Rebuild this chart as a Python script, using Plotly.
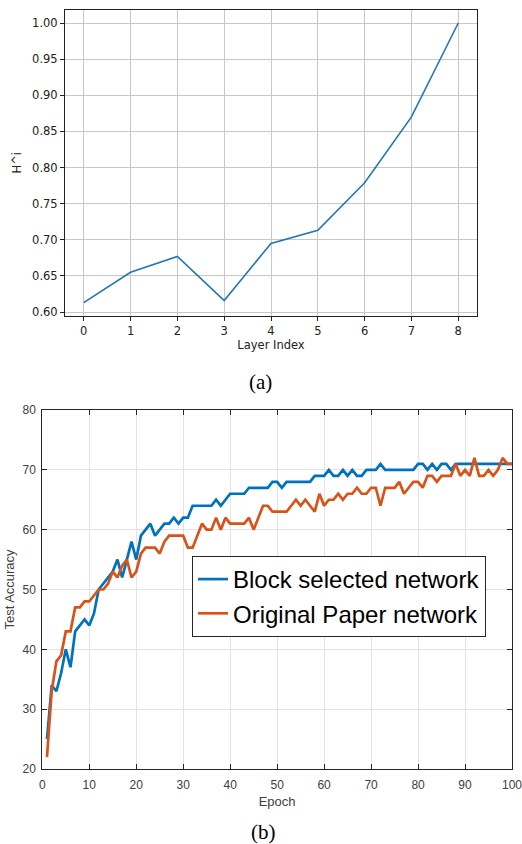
import plotly.graph_objects as go

# ---- Panel (a) data ----
layer_index = [0, 1, 2, 3, 4, 5, 6, 7, 8]
h_values = [0.613, 0.655, 0.677, 0.616, 0.695, 0.713, 0.779, 0.870, 1.000]
a_yticks = [0.60, 0.65, 0.70, 0.75, 0.80, 0.85, 0.90, 0.95, 1.00]

# ---- Panel (b) data ----
epochs = list(range(1, 101))
block_selected = [
    25, 34, 33, 36, 40, 37, 43, 44, 45, 44,
    46, 50, 51, 52, 53, 55, 52, 55, 58, 55,
    59, 60, 61, 59, 60, 61, 61, 62, 61, 62,
    62, 64, 64, 64, 64, 64, 65, 64, 65, 66,
    66, 66, 66, 67, 67, 67, 67, 67, 68, 68,
    67, 68, 68, 68, 68, 68, 68, 69, 69, 69,
    70, 69, 69, 70, 69, 70, 69, 69, 70, 70,
    70, 71, 70, 70, 70, 70, 70, 70, 70, 71,
    71, 70, 71, 70, 71, 71, 70, 71, 71, 71,
    71, 71, 71, 71, 71, 71, 71, 71, 71, 71,
]
original_paper = [
    22, 33, 38, 39, 43, 43, 47, 47, 48, 48,
    49, 50, 50, 51, 53, 52, 54, 55, 52, 53,
    56, 57, 57, 57, 56, 58, 59, 59, 59, 59,
    57, 57, 59, 61, 60, 60, 62, 60, 62, 61,
    61, 61, 61, 62, 60, 62, 64, 64, 63, 63,
    63, 63, 64, 65, 64, 65, 64, 63, 66, 64,
    65, 65, 66, 65, 66, 66, 67, 66, 66, 67,
    67, 64, 67, 67, 67, 68, 66, 67, 68, 68,
    67, 69, 69, 68, 69, 69, 69, 71, 69, 70,
    69, 72, 69, 69, 70, 69, 70, 72, 71, 71,
]
b_xticks = [0, 10, 20, 30, 40, 50, 60, 70, 80, 90, 100]
b_yticks = [20, 30, 40, 50, 60, 70, 80]

W, H = 522, 844
MPL_FONT = "DejaVu Sans"
MATLAB_FONT = "Liberation Sans, Arial, Helvetica"
SERIF = "Liberation Serif, Times New Roman"

fig = go.Figure()

fig.add_trace(go.Scatter(
    x=layer_index, y=h_values, mode="lines",
    line=dict(color="#1f77b4", width=1.6),
    xaxis="x", yaxis="y", showlegend=False,
))

fig.add_trace(go.Scatter(
    x=epochs, y=block_selected, mode="lines", name="Block selected network",
    line=dict(color="#0072BD", width=2.7),
    xaxis="x2", yaxis="y2",
))
fig.add_trace(go.Scatter(
    x=epochs, y=original_paper, mode="lines", name="Original Paper network",
    line=dict(color="#D95319", width=2.7),
    xaxis="x2", yaxis="y2",
))

def px_x(p):
    return p / W

def px_y(p):
    return 1 - p / H

fig.update_layout(
    width=W, height=H,
    margin=dict(l=0, r=0, t=0, b=0),
    paper_bgcolor="white", plot_bgcolor="white",
    xaxis=dict(
        domain=[px_x(65), px_x(477)], anchor="y", automargin=False,
        range=[-0.4, 8.4], tickvals=layer_index,
        showgrid=True, gridcolor="#c8c8c8", gridwidth=1,
        showline=True, linecolor="#222", linewidth=1, mirror=True,
        ticks="outside", ticklen=4, tickcolor="#222",
        tickfont=dict(family=MPL_FONT, size=11.5, color="#222"),
        title=dict(text="Layer Index", font=dict(family=MPL_FONT, size=11.5, color="#222"), standoff=3),
        zeroline=False,
    ),
    yaxis=dict(
        domain=[px_y(316), px_y(9.5)], anchor="x", automargin=False,
        range=[0.5945, 1.0187], tickvals=a_yticks, tickformat=".2f",
        showgrid=True, gridcolor="#c8c8c8", gridwidth=1,
        showline=True, linecolor="#222", linewidth=1, mirror=True,
        ticks="outside", ticklen=4, tickcolor="#222",
        tickfont=dict(family=MPL_FONT, size=11.5, color="#222"),
        title=dict(text="H^i", font=dict(family=MPL_FONT, size=11.5, color="#222"), standoff=8),
        zeroline=False,
    ),
    xaxis2=dict(
        domain=[px_x(42.3), px_x(512)], anchor="y2", automargin=False,
        range=[0, 100], tickvals=b_xticks,
        showgrid=True, gridcolor="#e3e3e3", gridwidth=1,
        showline=True, linecolor="#262626", linewidth=1, mirror="ticks",
        ticks="inside", ticklen=5, tickcolor="#262626",
        ticklabelstandoff=5, ticklabeloverflow="allow",
        tickfont=dict(family=MATLAB_FONT, size=12, color="#404040"),
        title=dict(text="Epoch", font=dict(family=MATLAB_FONT, size=13, color="#404040"), standoff=5),
        zeroline=False,
    ),
    yaxis2=dict(
        domain=[px_y(769), px_y(410)], anchor="x2", automargin=False,
        range=[20, 80], tickvals=b_yticks,
        showgrid=True, gridcolor="#e3e3e3", gridwidth=1,
        showline=True, linecolor="#262626", linewidth=1, mirror="ticks",
        ticks="inside", ticklen=5, tickcolor="#262626",
        ticklabelstandoff=3, ticklabeloverflow="allow",
        tickfont=dict(family=MATLAB_FONT, size=12, color="#404040"),
        title=dict(text="Test Accuracy", font=dict(family=MATLAB_FONT, size=13, color="#404040"), standoff=4),
        zeroline=False,
    ),
    legend=dict(
        x=px_x(192), y=px_y(556), xanchor="left", yanchor="top",
        bgcolor="white", bordercolor="#262626", borderwidth=1,
        font=dict(family=MATLAB_FONT, size=24, color="black"),
        tracegroupgap=0, itemwidth=30,
    ),
    annotations=[
        dict(text="(a)", x=px_x(260), y=px_y(382), xref="paper", yref="paper",
             xanchor="center", yanchor="middle",
             showarrow=False, font=dict(family=SERIF, size=21, color="black")),
        dict(text="(b)", x=px_x(263), y=px_y(832), xref="paper", yref="paper",
             xanchor="center", yanchor="middle",
             showarrow=False, font=dict(family=SERIF, size=21, color="black")),
    ],
)

fig.write_html("out.html")
